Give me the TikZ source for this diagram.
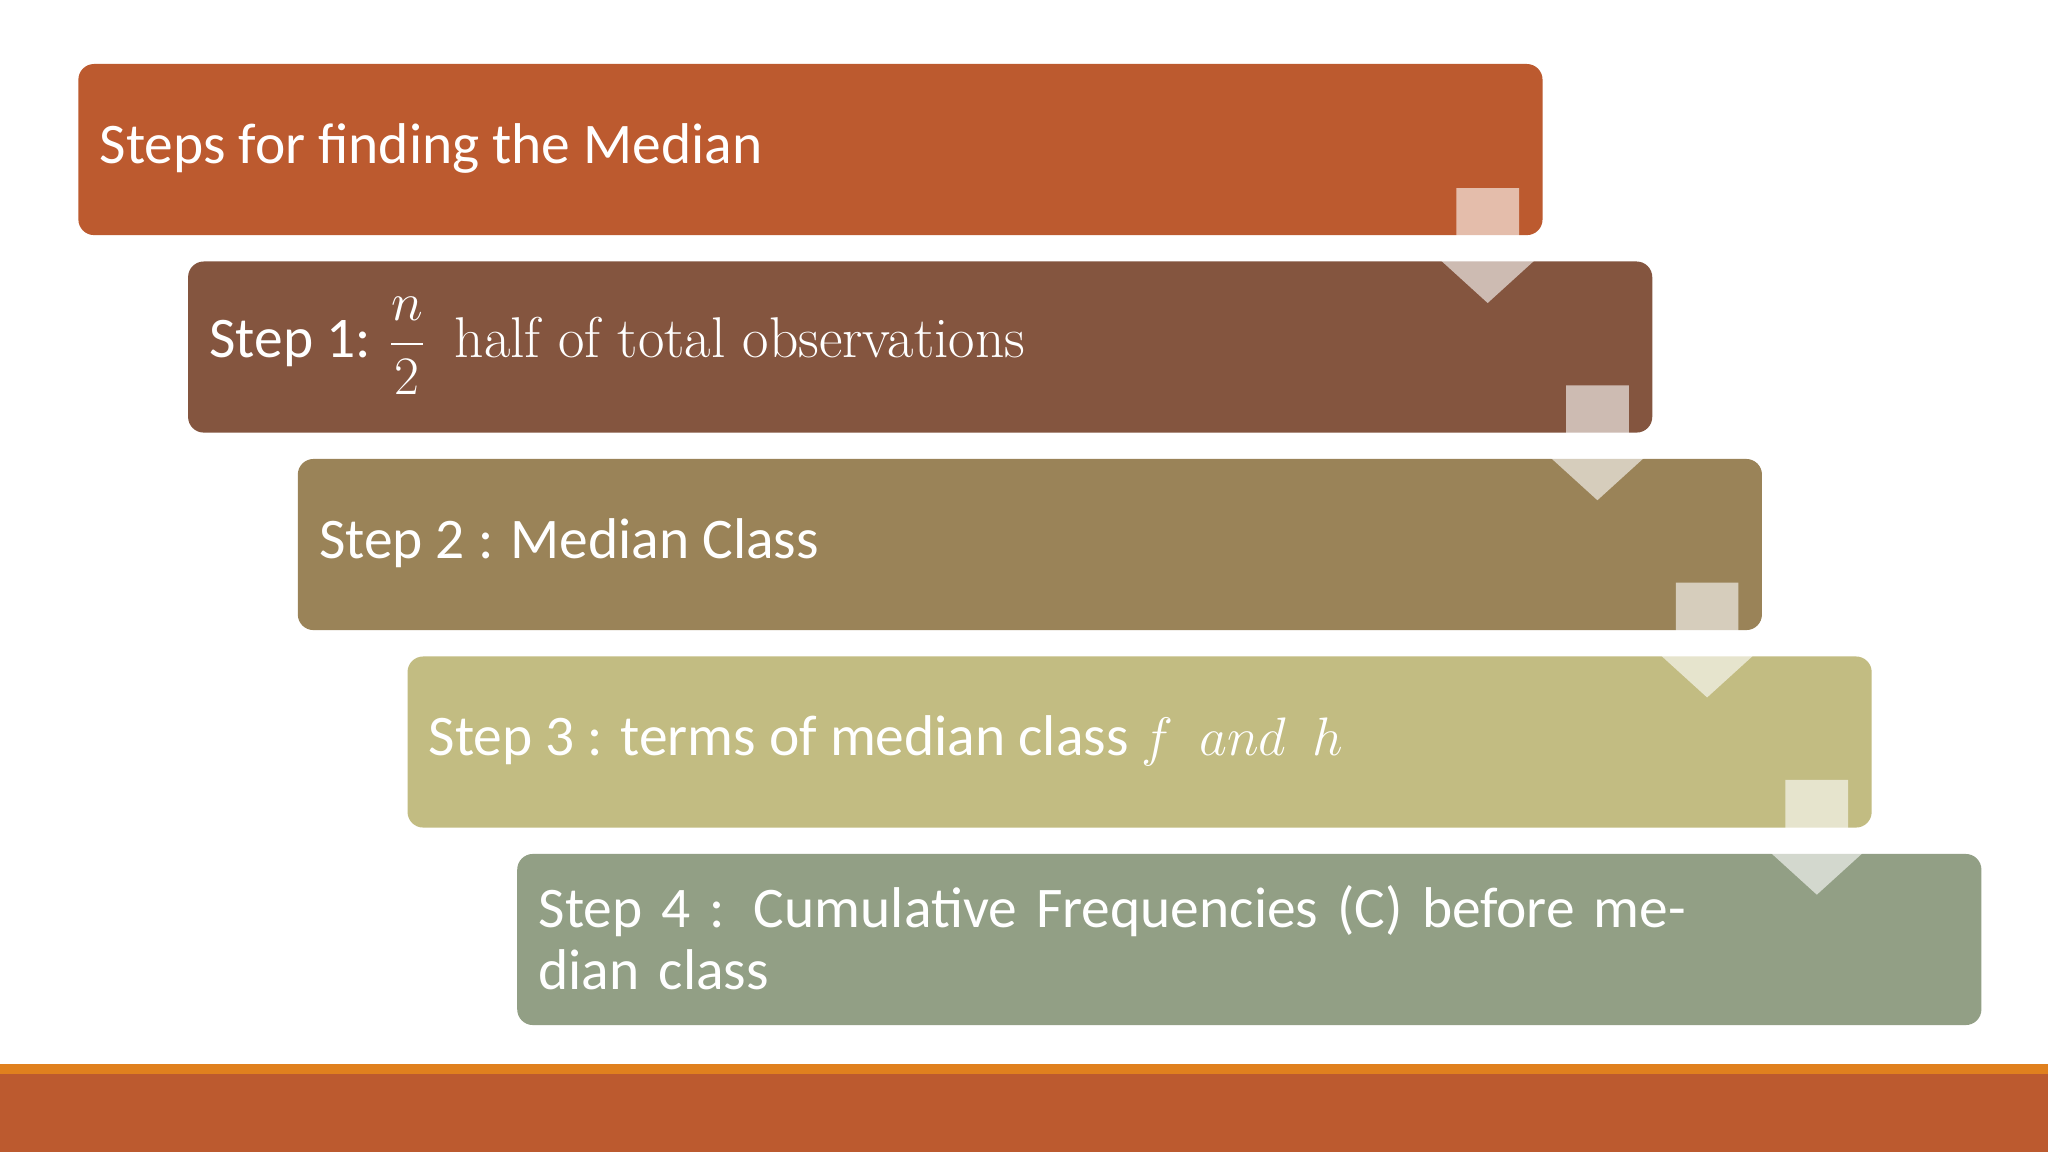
\documentclass[tikz,border=0pt]{standalone}
\usepackage{fontspec}
\setmainfont{Carlito}
\begin{document}
\begin{tikzpicture}[x=0.5pt,y=-0.5pt,
  stepbox/.style={rounded corners=6pt},
  lbl/.style={anchor=west,text=white,font=\fontsize{22}{24}\selectfont,inner sep=0},
  arr/.style={fill=white,fill opacity=0.6,draw=none}]
\definecolor{c0}{HTML}{BC5A2F}
\definecolor{c1}{HTML}{84553F}
\definecolor{c2}{HTML}{9A8358}
\definecolor{c3}{HTML}{C2BC82}
\definecolor{c4}{HTML}{929F85}
\definecolor{ln}{HTML}{E0801E}
\useasboundingbox (0,0) rectangle (1568,882);
\fill[white] (0,0) rectangle (1568,882);
\fill[ln] (0,815) rectangle (1568,822);
\fill[c0] (0,822) rectangle (1568,882);
\foreach \i/\c in {0/c0,1/c1,2/c2,3/c3,4/c4}{
  \fill[\c,stepbox] ({60+84*\i},{49+151.2*\i}) rectangle ({1181+84*\i},{180+151.2*\i});
}
\foreach \i in {0,1,2,3}{
  \begin{scope}[shift={({84*\i},{151*\i})}]
  \fill[arr] (1115,144) -- (1163,144) -- (1163,192) -- (1183,192) -- (1139,232) -- (1095,192) -- (1115,192) -- cycle;
  \end{scope}
}
\node[lbl] (t0) at (76,114) {Steps for finding the Median};
\node[lbl] (t1) at (160,265) {Step 1: $\displaystyle\frac{n}{2}$\enspace{\fontspec{Latin Modern Roman}half of total observations}};
\node[lbl] (t2) at (244,416) {Step 2 : Median Class};
\node[lbl] (t3) at (328,567) {Step 3 : terms of median class $f\ \ and\ \ h$};
\node[lbl,text width=470pt,align=left] (t4) at (412,718) {Step 4 : Cumulative Frequencies (C) before median class};
\end{tikzpicture}
\end{document}
